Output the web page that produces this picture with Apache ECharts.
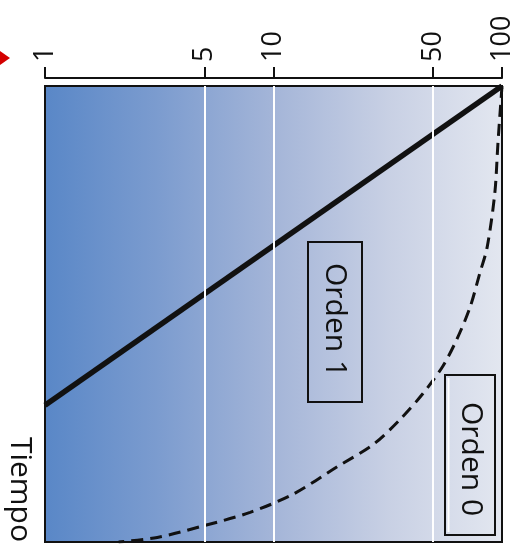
<!DOCTYPE html>
<html>
<head>
<meta charset="utf-8">
<script src="https://cdn.jsdelivr.net/npm/echarts@6/dist/echarts.min.js"></script>
<style>
  html, body { margin: 0; padding: 0; background: #ffffff; }
  #chart { width: 522px; height: 557px; }
</style>
</head>
<body>
<div id="chart"></div>
<script>
// Concentration axis (log) tick labels and white reference lines
const concTicks = [1, 5, 10, 50, 100];
const gridValues = [5, 10, 50];

// First-order decay: straight line on the log axis
const tiempoOrden1 = [0, 7];
const orden1 = [100, 1];

// Zero-order decay: linear fall, curved on the log axis
const tiempoOrden0 = [0, 1.25, 2.35, 3.55, 4.1, 4.85, 5.55, 6.15, 6.75, 7.3, 7.85, 8.35, 8.95, 9.35, 9.65, 9.9, 10];
const orden0 = [100, 96, 93, 86, 80, 72.5, 63.5, 55, 45, 36, 27.5, 19, 12.2, 7.9, 4.9, 3.1, 2.1];

const FONT = 'Open Sans';
const INK = '#111111';

const pairs = (xs, ts) => xs.map((v, i) => [v, ts[i]]);

const chart = echarts.init(document.getElementById('chart'), null, { renderer: 'canvas' });

chart.setOption({
  animation: false,
  grid: {
    left: 45, right: 20, top: 86, bottom: 15,
    show: true,
    borderColor: INK,
    borderWidth: 2,
    backgroundColor: {
      type: 'linear', x: 0, y: 0, x2: 1, y2: 0,
      colorStops: [
        { offset: 0, color: '#5987c7' },
        { offset: 0.25, color: '#7c9ccf' },
        { offset: 0.5, color: '#a4b5d8' },
        { offset: 0.75, color: '#c8d0e4' },
        { offset: 1, color: '#e3e7f0' }
      ]
    }
  },
  xAxis: {
    type: 'log',
    logBase: 10,
    min: 1,
    max: 100,
    position: 'top',
    offset: 8,
    axisLine: { show: true, onZero: false, lineStyle: { color: INK, width: 2 } },
    axisTick: { show: true, inside: false, length: 11, lineStyle: { color: INK, width: 2 }, customValues: concTicks },
    axisLabel: {
      show: true, customValues: concTicks, rotate: -90, margin: 16,
      fontSize: 27, fontFamily: FONT, color: INK
    },
    splitLine: { show: false },
    minorTick: { show: false },
    minorSplitLine: { show: false }
  },
  yAxis: {
    type: 'value',
    min: 0,
    max: 10,
    inverse: true,
    offset: 10,
    name: 'Tiempo',
    nameLocation: 'end',
    nameGap: 0,
    nameRotate: -90,
    nameTextStyle: { fontSize: 30, fontFamily: FONT, color: INK, align: 'right', verticalAlign: 'top' },
    axisLine: { show: false, onZero: false },
    axisTick: { show: false },
    axisLabel: { show: false },
    splitLine: { show: false }
  },
  series: [
    {
      name: 'grid',
      type: 'line',
      data: [],
      z: 1,
      silent: true,
      markLine: {
        silent: true,
        symbol: ['none', 'none'],
        label: { show: false },
        lineStyle: { color: '#ffffff', width: 2, type: 'solid' },
        data: gridValues.map(v => ({ xAxis: v }))
      }
    },
    {
      name: 'Orden 0',
      type: 'line',
      z: 3,
      data: pairs(orden0, tiempoOrden0),
      smooth: 0.3,
      showSymbol: false,
      symbol: 'none',
      lineStyle: { color: INK, width: 3, type: [12, 7] }
    },
    {
      name: 'Orden 1',
      type: 'line',
      z: 4,
      data: pairs(orden1, tiempoOrden1),
      showSymbol: false,
      symbol: 'none',
      lineStyle: { color: INK, width: 5.5 }
    }
  ],
  graphic: [
    {
      type: 'polygon',
      shape: { points: [[0, 51], [10, 58], [0, 65]] },
      style: { fill: '#d40000' }
    },
    {
      type: 'rect',
      shape: { x: 308, y: 242, width: 54, height: 160 },
      style: { fill: 'none', stroke: INK, lineWidth: 2 },
      z: 10
    },
    {
      type: 'text',
      x: 335, y: 320,
      rotation: -Math.PI / 2,
      style: { text: 'Orden 1', fontSize: 30, fontFamily: FONT, fill: INK, align: 'center', verticalAlign: 'middle' },
      z: 10
    },
    {
      type: 'rect',
      shape: { x: 445, y: 375, width: 50, height: 160 },
      style: { fill: 'none', stroke: INK, lineWidth: 2 },
      z: 10
    },
    {
      type: 'line',
      shape: { x1: 448.5, y1: 378, x2: 448.5, y2: 532 },
      style: { stroke: '#ffffff', lineWidth: 2 },
      z: 10
    },
    {
      type: 'text',
      x: 471, y: 459,
      rotation: -Math.PI / 2,
      style: { text: 'Orden 0', fontSize: 30, fontFamily: FONT, fill: INK, align: 'center', verticalAlign: 'middle' },
      z: 10
    }
  ]
});
</script>
</body>
</html>
